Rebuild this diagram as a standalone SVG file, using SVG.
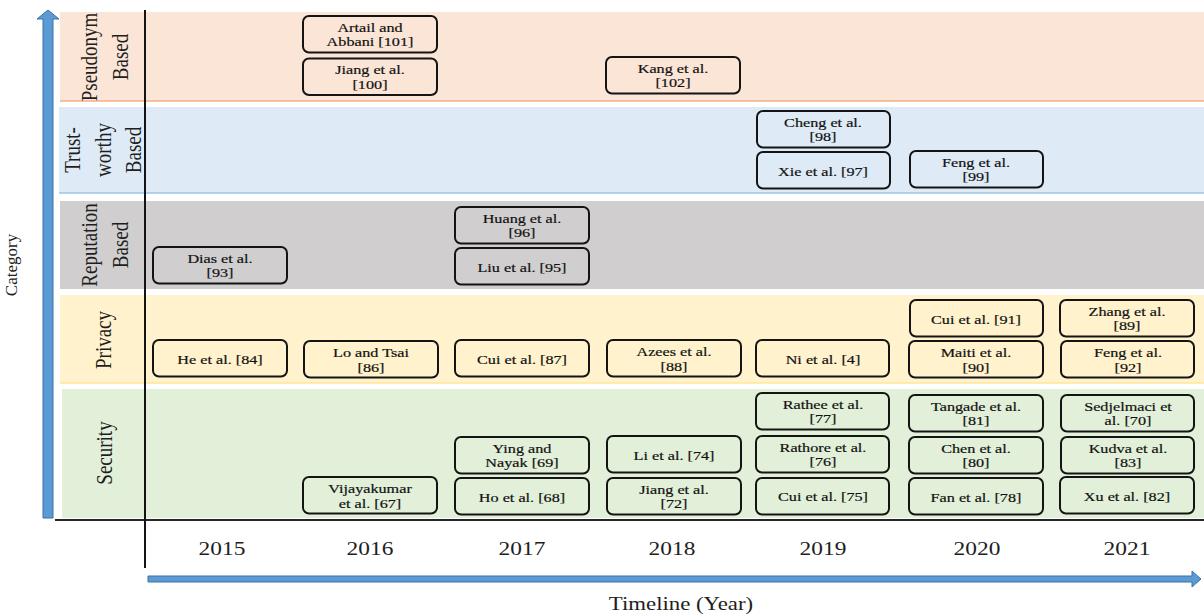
<svg xmlns="http://www.w3.org/2000/svg" width="1204" height="616" viewBox="0 0 1204 616">
<style>
text{font-family:"Liberation Serif","Times New Roman",serif;fill:#1e1e1e;text-anchor:middle}
.node rect{stroke:#141414;stroke-width:2;}
.nt{font-size:13.5px;fill:#111;stroke:#111;stroke-width:0.2}
.cat{font-size:19px}
.yr{font-size:19.5px}
.pse rect{fill:#fbe5d6}
.tru rect{fill:#deebf7}
.rep rect{fill:#d0cece}
.pri rect{fill:#fff2cc}
.sec rect{fill:#e2f0d9}
.arrow{fill:#5b9bd5;stroke:#41719c;stroke-width:1}
</style>
<rect width="1204" height="616" fill="#ffffff"/>
<g id="bands">
<rect x="60" y="12" width="1144" height="89" fill="#fbe5d6"/>
<line x1="60" y1="101" x2="1204" y2="101" stroke="#f4b183" stroke-width="1.5"/>
<rect x="59" y="107" width="1145" height="86" fill="#deebf7"/>
<line x1="59" y1="193" x2="1204" y2="193" stroke="#9dc3e6" stroke-width="1.5"/>
<rect x="60" y="201" width="1144" height="88" fill="#d0cece"/>
<rect x="60" y="295" width="1144" height="88" fill="#fff2cc"/>
<line x1="60" y1="383" x2="1204" y2="383" stroke="#ffe699" stroke-width="1.5"/>
<rect x="62" y="389" width="1142" height="129" fill="#e2f0d9"/>
</g>
<g id="category-labels" class="cat">
<text class="cat" transform="translate(97,57) scale(1.2,1) rotate(-90)">Pseudonym</text>
<text class="cat" transform="translate(128,57) scale(1.2,1) rotate(-90)">Based</text>
<text class="cat" transform="translate(80,150) scale(1.2,1) rotate(-90)">Trust-</text>
<text class="cat" transform="translate(110.5,150) scale(1.2,1) rotate(-90)">worthy</text>
<text class="cat" transform="translate(141,150) scale(1.2,1) rotate(-90)">Based</text>
<text class="cat" transform="translate(97,245) scale(1.2,1) rotate(-90)">Reputation</text>
<text class="cat" transform="translate(128,245) scale(1.2,1) rotate(-90)">Based</text>
<text class="cat" transform="translate(111,340) scale(1.2,1) rotate(-90)">Privacy</text>
<text class="cat" transform="translate(112,453) scale(1.2,1) rotate(-90)">Security</text>
</g>
<g id="connectors">
<polygon class="arrow" points="43,518 43,19 37,19 48,10 59,19 53,19 53,518"/>
<polygon class="arrow" points="148,576 1192,576 1192,571 1201,579 1192,587 1192,582 148,582"/>
<line x1="55" y1="520" x2="1204" y2="520" stroke="#262626" stroke-width="2"/>
<line x1="145" y1="10" x2="145" y2="568" stroke="#141414" stroke-width="2"/>
</g>
<text style="font-size:17px" transform="translate(17,265) rotate(-90)">Category</text>
<g id="years" class="yr">
<text class="yr" transform="translate(222,555) scale(1.2,1)">2015</text>
<text class="yr" transform="translate(370,555) scale(1.2,1)">2016</text>
<text class="yr" transform="translate(522,555) scale(1.2,1)">2017</text>
<text class="yr" transform="translate(672,555) scale(1.2,1)">2018</text>
<text class="yr" transform="translate(823,555) scale(1.2,1)">2019</text>
<text class="yr" transform="translate(977,555) scale(1.2,1)">2020</text>
<text class="yr" transform="translate(1127,555) scale(1.2,1)">2021</text>
</g>
<text style="font-size:19px" transform="translate(681,610) scale(1.2,1)">Timeline (Year)</text>

<g id="n-artail101" class="node pse"><rect x="303" y="16" width="134" height="36.5" rx="6"/><text class="nt" transform="translate(370,0) scale(1.2,1)"><tspan x="0" y="32">Artail and</tspan><tspan x="0" y="46.5">Abbani [101]</tspan></text></g>
<g id="n-jiang100" class="node pse"><rect x="303" y="58.5" width="134" height="36.5" rx="6"/><text class="nt" transform="translate(370,0) scale(1.2,1)"><tspan x="0" y="74.5">Jiang et al.</tspan><tspan x="0" y="89">[100]</tspan></text></g>
<g id="n-kang102" class="node pse"><rect x="606" y="57" width="134" height="36.5" rx="6"/><text class="nt" transform="translate(673,0) scale(1.2,1)"><tspan x="0" y="73">Kang et al.</tspan><tspan x="0" y="87.5">[102]</tspan></text></g>

<g id="n-cheng98" class="node tru"><rect x="757" y="111" width="133" height="36.5" rx="6"/><text class="nt" transform="translate(823,0) scale(1.2,1)"><tspan x="0" y="127">Cheng et al.</tspan><tspan x="0" y="141.5">[98]</tspan></text></g>
<g id="n-xie97" class="node tru"><rect x="757" y="152" width="133" height="36.5" rx="6"/><text class="nt" transform="translate(823,175.5) scale(1.2,1)">Xie et al. [97]</text></g>
<g id="n-feng99" class="node tru"><rect x="910" y="151" width="133" height="36.5" rx="6"/><text class="nt" transform="translate(976,0) scale(1.2,1)"><tspan x="0" y="167">Feng et al.</tspan><tspan x="0" y="181.5">[99]</tspan></text></g>

<g id="n-dias93" class="node rep"><rect x="153" y="247" width="134" height="36.5" rx="6"/><text class="nt" transform="translate(220,0) scale(1.2,1)"><tspan x="0" y="263">Dias et al.</tspan><tspan x="0" y="277.5">[93]</tspan></text></g>
<g id="n-huang96" class="node rep"><rect x="455" y="207" width="134" height="36.5" rx="6"/><text class="nt" transform="translate(522,0) scale(1.2,1)"><tspan x="0" y="223">Huang et al.</tspan><tspan x="0" y="237.5">[96]</tspan></text></g>
<g id="n-liu95" class="node rep"><rect x="455" y="248" width="134" height="36.5" rx="6"/><text class="nt" transform="translate(522,271.5) scale(1.2,1)">Liu et al. [95]</text></g>

<g id="n-he84" class="node pri"><rect x="153" y="340" width="134" height="36.5" rx="6"/><text class="nt" transform="translate(220,363.5) scale(1.2,1)">He et al. [84]</text></g>
<g id="n-lo86" class="node pri"><rect x="304" y="341" width="134" height="36.5" rx="6"/><text class="nt" transform="translate(371,0) scale(1.2,1)"><tspan x="0" y="357.5">Lo and Tsai</tspan><tspan x="0" y="372">[86]</tspan></text></g>
<g id="n-cui87" class="node pri"><rect x="455" y="340" width="134" height="36.5" rx="6"/><text class="nt" transform="translate(522,363.5) scale(1.2,1)">Cui et al. [87]</text></g>
<g id="n-azees88" class="node pri"><rect x="607" y="340" width="134" height="36.5" rx="6"/><text class="nt" transform="translate(674,0) scale(1.2,1)"><tspan x="0" y="356.5">Azees et al.</tspan><tspan x="0" y="371">[88]</tspan></text></g>
<g id="n-ni4" class="node pri"><rect x="756" y="340" width="133" height="36.5" rx="6"/><text class="nt" transform="translate(823,363.5) scale(1.2,1)">Ni et al. [4]</text></g>
<g id="n-cui91" class="node pri"><rect x="910" y="300" width="133" height="36.5" rx="6"/><text class="nt" transform="translate(976,323.5) scale(1.2,1)">Cui et al. [91]</text></g>
<g id="n-maiti90" class="node pri"><rect x="909" y="341" width="134" height="36.5" rx="6"/><text class="nt" transform="translate(976,0) scale(1.2,1)"><tspan x="0" y="357.5">Maiti et al.</tspan><tspan x="0" y="372">[90]</tspan></text></g>
<g id="n-zhang89" class="node pri"><rect x="1060" y="300" width="134" height="36.5" rx="6"/><text class="nt" transform="translate(1127,0) scale(1.2,1)"><tspan x="0" y="316">Zhang et al.</tspan><tspan x="0" y="330.5">[89]</tspan></text></g>
<g id="n-feng92" class="node pri"><rect x="1061" y="341" width="133" height="36.5" rx="6"/><text class="nt" transform="translate(1128,0) scale(1.2,1)"><tspan x="0" y="357.5">Feng et al.</tspan><tspan x="0" y="372">[92]</tspan></text></g>

<g id="n-vijayakumar67" class="node sec"><rect x="303" y="477" width="134" height="36.5" rx="6"/><text class="nt" transform="translate(370,0) scale(1.2,1)"><tspan x="0" y="493.5">Vijayakumar</tspan><tspan x="0" y="508">et al. [67]</tspan></text></g>
<g id="n-ying69" class="node sec"><rect x="455" y="437" width="134" height="36.5" rx="6"/><text class="nt" transform="translate(522,0) scale(1.2,1)"><tspan x="0" y="453">Ying and</tspan><tspan x="0" y="467.5">Nayak [69]</tspan></text></g>
<g id="n-ho68" class="node sec"><rect x="455" y="478" width="134" height="36.5" rx="6"/><text class="nt" transform="translate(522,501.5) scale(1.2,1)">Ho et al. [68]</text></g>
<g id="n-li74" class="node sec"><rect x="607" y="436" width="134" height="36.5" rx="6"/><text class="nt" transform="translate(674,459.5) scale(1.2,1)">Li et al. [74]</text></g>
<g id="n-jiang72" class="node sec"><rect x="607" y="478" width="134" height="36.5" rx="6"/><text class="nt" transform="translate(674,0) scale(1.2,1)"><tspan x="0" y="494">Jiang et al.</tspan><tspan x="0" y="508.5">[72]</tspan></text></g>
<g id="n-rathee77" class="node sec"><rect x="756" y="393" width="133" height="36.5" rx="6"/><text class="nt" transform="translate(823,0) scale(1.2,1)"><tspan x="0" y="409">Rathee et al.</tspan><tspan x="0" y="423.5">[77]</tspan></text></g>
<g id="n-rathore76" class="node sec"><rect x="756" y="436" width="133" height="36.5" rx="6"/><text class="nt" transform="translate(823,0) scale(1.2,1)"><tspan x="0" y="452">Rathore et al.</tspan><tspan x="0" y="466.5">[76]</tspan></text></g>
<g id="n-cui75" class="node sec"><rect x="756" y="478" width="133" height="36.5" rx="6"/><text class="nt" transform="translate(823,501) scale(1.2,1)">Cui et al. [75]</text></g>
<g id="n-tangade81" class="node sec"><rect x="909" y="395" width="134" height="36.5" rx="6"/><text class="nt" transform="translate(976,0) scale(1.2,1)"><tspan x="0" y="411">Tangade et al.</tspan><tspan x="0" y="425.5">[81]</tspan></text></g>
<g id="n-chen80" class="node sec"><rect x="909" y="437" width="134" height="36.5" rx="6"/><text class="nt" transform="translate(976,0) scale(1.2,1)"><tspan x="0" y="453">Chen et al.</tspan><tspan x="0" y="467.5">[80]</tspan></text></g>
<g id="n-fan78" class="node sec"><rect x="909" y="478" width="134" height="36.5" rx="6"/><text class="nt" transform="translate(976,501.5) scale(1.2,1)">Fan et al. [78]</text></g>
<g id="n-sedjelmaci70" class="node sec"><rect x="1061" y="395" width="133" height="36.5" rx="6"/><text class="nt" transform="translate(1128,0) scale(1.2,1)"><tspan x="0" y="411">Sedjelmaci et</tspan><tspan x="0" y="425.5">al. [70]</tspan></text></g>
<g id="n-kudva83" class="node sec"><rect x="1061" y="437" width="133" height="36.5" rx="6"/><text class="nt" transform="translate(1128,0) scale(1.2,1)"><tspan x="0" y="453">Kudva et al.</tspan><tspan x="0" y="467.5">[83]</tspan></text></g>
<g id="n-xu82" class="node sec"><rect x="1060" y="477" width="134" height="36.5" rx="6"/><text class="nt" transform="translate(1127,500.5) scale(1.2,1)">Xu et al. [82]</text></g>
</svg>
